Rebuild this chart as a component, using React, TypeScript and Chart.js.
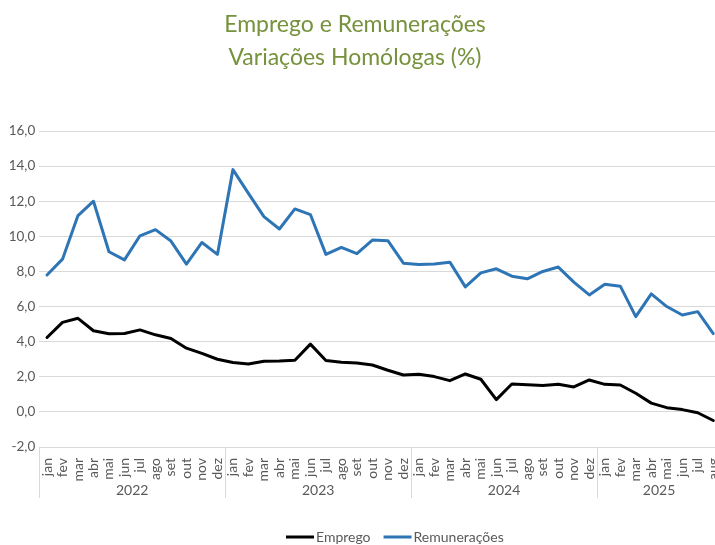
import React, { useEffect, useRef } from "react";
import { Chart, registerables } from "chart.js";

Chart.register(...registerables);

// ---- data ----
const monthLabels: string[] = [
  "jan", "fev", "mar", "abr", "mai", "jun", "jul", "ago", "set", "out", "nov", "dez",
  "jan", "fev", "mar", "abr", "mai", "jun", "jul", "ago", "set", "out", "nov", "dez",
  "jan", "fev", "mar", "abr", "mai", "jun", "jul", "ago", "set", "out", "nov", "dez",
  "jan", "fev", "mar", "abr", "mai", "jun", "jul", "aug",
];
const yearLabels: string[] = ["2022", "2023", "2024", "2025"];
const yearSpans: number[] = [12, 12, 12, 8];

const emprego: number[] = [
  4.24, 5.1, 5.33, 4.62, 4.45, 4.47, 4.67, 4.39, 4.18, 3.63, 3.33, 3.0,
  2.81, 2.73, 2.89, 2.9, 2.94, 3.86, 2.93, 2.83, 2.79, 2.67, 2.37, 2.1,
  2.14, 2.01, 1.78, 2.16, 1.86, 0.7, 1.59, 1.55, 1.51, 1.57, 1.42, 1.82,
  1.57, 1.53, 1.06, 0.5, 0.24, 0.13, -0.05, -0.49,
];
const remuneracoes: number[] = [
  7.8, 8.7, 11.18, 12.0, 9.12, 8.66, 10.03, 10.38, 9.73, 8.42, 9.65, 8.97,
  13.8, 12.45, 11.12, 10.42, 11.56, 11.24, 8.97, 9.37, 9.01, 9.79, 9.75, 8.47,
  8.4, 8.42, 8.53, 7.12, 7.92, 8.15, 7.73, 7.58, 8.0, 8.25, 7.39, 6.66,
  7.27, 7.16, 5.43, 6.72, 6.0, 5.52, 5.71, 4.46,
];

const titleLines: string[] = ["Emprego e Remunerações", "Variações Homólogas (%)"];

const FONT = "Lato";
const TEXT = "#595959";
const GRID = "#d9d9d9";

const decorPlugin = {
  id: "decor",
  afterDraw(chart: any) {
    const ctx: CanvasRenderingContext2D = chart.ctx;
    const xs = chart.scales.x;
    const area = chart.chartArea;
    ctx.save();

    // title
    ctx.fillStyle = "#76923C";
    ctx.font = `23px ${FONT}`;
    ctx.textAlign = "center";
    ctx.textBaseline = "alphabetic";
    ctx.fillText(titleLines[0], 355, 32);
    ctx.fillText(titleLines[1], 355, 65);

    // year groups
    const step = xs.getPixelForValue(1) - xs.getPixelForValue(0);
    let idx = 0;
    ctx.strokeStyle = GRID;
    ctx.lineWidth = 1;
    const boundaries: number[] = [0];
    yearSpans.forEach((s) => {
      idx += s;
      boundaries.push(idx);
    });
    boundaries.forEach((b) => {
      const x = Math.round(xs.getPixelForValue(b) - step / 2) + 0.5;
      ctx.beginPath();
      ctx.moveTo(x, area.bottom);
      ctx.lineTo(x, 498);
      ctx.stroke();
    });
    ctx.fillStyle = TEXT;
    ctx.font = `14px ${FONT}`;
    ctx.textBaseline = "middle";
    for (let i = 0; i < yearLabels.length; i++) {
      const x0 = xs.getPixelForValue(boundaries[i]) - step / 2;
      const x1 = xs.getPixelForValue(boundaries[i + 1]) - step / 2;
      ctx.fillText(yearLabels[i], (x0 + x1) / 2, 490);
    }

    // legend
    ctx.font = `14px ${FONT}`;
    ctx.textAlign = "left";
    let lx = 286;
    const ly = 537;
    chart.data.datasets.forEach((ds: any) => {
      ctx.strokeStyle = ds.borderColor;
      ctx.lineWidth = 3;
      ctx.beginPath();
      ctx.moveTo(lx, ly);
      ctx.lineTo(lx + 28, ly);
      ctx.stroke();
      ctx.fillStyle = TEXT;
      ctx.fillText(ds.label, lx + 30, ly);
      lx += 30 + ctx.measureText(ds.label).width + 13;
    });

    ctx.restore();
  },
};

export default function App() {
  const ref = useRef<HTMLCanvasElement>(null);

  useEffect(() => {
    Chart.defaults.font.family = FONT;
    const chart = new Chart(ref.current!, {
      type: "line",
      data: {
        labels: monthLabels,
        datasets: [
          {
            label: "Emprego",
            data: emprego,
            borderColor: "#000000",
            backgroundColor: "#000000",
            borderWidth: 3,
            pointRadius: 0,
            tension: 0,
            borderJoinStyle: "round",
            borderCapStyle: "round",
          },
          {
            label: "Remunerações",
            data: remuneracoes,
            borderColor: "#2E75B6",
            backgroundColor: "#2E75B6",
            borderWidth: 3,
            pointRadius: 0,
            tension: 0,
            borderJoinStyle: "round",
            borderCapStyle: "round",
          },
        ],
      },
      options: {
        responsive: false,
        animation: false,
        layout: { padding: { top: 131, right: 19, bottom: 0, left: 0 } },
        plugins: {
          legend: { display: false },
          title: { display: false },
          tooltip: { enabled: false },
        },
        scales: {
          x: {
            type: "category",
            offset: true,
            grid: { display: false },
            border: { display: false },
            ticks: {
              autoSkip: false,
              minRotation: 90,
              maxRotation: 90,
              padding: 3,
              color: TEXT,
              font: { size: 14, family: FONT },
            },
            afterFit: (s: any) => {
              s.height = 98;
            },
          },
          y: {
            min: -2,
            max: 16,
            grid: { color: GRID, lineWidth: 1, drawTicks: false },
            border: { display: false },
            ticks: {
              stepSize: 2,
              padding: 4,
              color: TEXT,
              font: { size: 13.5, family: FONT },
              callback: (v: any) => Number(v).toFixed(1).replace(".", ","),
            },
            afterFit: (s: any) => {
              s.width = 39.25;
            },
          },
        },
      },
      plugins: [decorPlugin],
    });
    return () => chart.destroy();
  }, []);

  return (
    <div
      style={{
        position: "fixed",
        left: 0,
        top: 0,
        width: 715,
        height: 545,
        overflow: "hidden",
        background: "#ffffff",
      }}
    >
      <canvas ref={ref} width={740} height={545} style={{ display: "block" }} />
    </div>
  );
}
